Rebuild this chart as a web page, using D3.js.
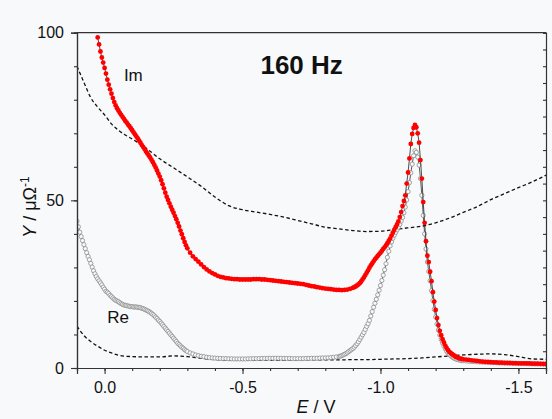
<!DOCTYPE html>
<html>

<head>
    <meta charset="UTF-8">
    <style>
        body { margin: 0; background: #f8f9fa; }
        svg { font-family: "Liberation Sans", Arial, sans-serif; }
    </style>
</head>

<body>
    <script src="https://d3js.org/d3.v7.min.js"></script>
    <div id="chart"></div>
    <script>
        // Im (red filled dots), [E in V, Y in uOhm^-1]
        const imData = [
            [0.025, 98.6], [0.020, 96.5], [0.015, 94.4], [0.010, 92.6], [0.005, 91.1], [0.000, 89.5],
            [-0.005, 87.8], [-0.010, 86.0], [-0.015, 84.5], [-0.020, 83.1], [-0.025, 81.8], [-0.030, 80.5],
            [-0.035, 79.3], [-0.040, 78.3], [-0.045, 77.5], [-0.050, 76.8], [-0.055, 76.1], [-0.060, 75.5],
            [-0.065, 74.9], [-0.070, 74.3], [-0.075, 73.7], [-0.080, 73.2], [-0.085, 72.6], [-0.090, 72.1],
            [-0.095, 71.5], [-0.100, 70.9], [-0.105, 70.3], [-0.110, 69.7], [-0.115, 69.1], [-0.120, 68.5],
            [-0.125, 67.8], [-0.130, 67.2], [-0.135, 66.5], [-0.140, 65.9], [-0.145, 65.3], [-0.150, 64.6],
            [-0.155, 64.0], [-0.160, 63.4], [-0.165, 62.8], [-0.170, 62.1], [-0.175, 61.4], [-0.180, 60.6],
            [-0.185, 59.8], [-0.190, 58.9], [-0.195, 58.0], [-0.200, 57.1], [-0.205, 56.0], [-0.210, 54.8],
            [-0.215, 53.6], [-0.220, 52.3], [-0.225, 51.1], [-0.230, 50.1], [-0.235, 49.1], [-0.240, 48.1],
            [-0.245, 47.2], [-0.250, 46.3], [-0.255, 45.3], [-0.260, 44.4], [-0.265, 43.3], [-0.270, 42.2],
            [-0.275, 41.0], [-0.280, 39.9], [-0.285, 38.7], [-0.290, 37.6], [-0.295, 36.6], [-0.300, 35.7],
            [-0.31, 34.4], [-0.32, 33.3], [-0.33, 32.5], [-0.34, 31.7], [-0.35, 30.9], [-0.36, 30.1],
            [-0.37, 29.4], [-0.38, 28.8], [-0.39, 28.3], [-0.40, 27.9], [-0.41, 27.5], [-0.42, 27.2],
            [-0.43, 27.0], [-0.44, 26.8], [-0.45, 26.7], [-0.46, 26.6], [-0.47, 26.5], [-0.48, 26.5],
            [-0.49, 26.4], [-0.50, 26.4], [-0.51, 26.4], [-0.52, 26.4], [-0.53, 26.4], [-0.54, 26.5],
            [-0.55, 26.5], [-0.56, 26.5], [-0.57, 26.4], [-0.58, 26.4], [-0.59, 26.3], [-0.60, 26.2],
            [-0.61, 26.1], [-0.62, 26.0], [-0.63, 25.9], [-0.64, 25.8], [-0.65, 25.7], [-0.66, 25.6],
            [-0.67, 25.5], [-0.68, 25.4], [-0.69, 25.3], [-0.70, 25.2], [-0.71, 25.1], [-0.72, 25.0],
            [-0.73, 24.8], [-0.74, 24.6], [-0.75, 24.4], [-0.76, 24.3], [-0.77, 24.1], [-0.78, 24.0],
            [-0.79, 23.8], [-0.80, 23.7], [-0.81, 23.6], [-0.82, 23.5], [-0.83, 23.4], [-0.84, 23.3],
            [-0.85, 23.3], [-0.86, 23.2], [-0.87, 23.3], [-0.88, 23.4], [-0.89, 23.6], [-0.900, 23.9],
            [-0.905, 24.1], [-0.910, 24.3], [-0.915, 24.6], [-0.920, 24.9], [-0.925, 25.3], [-0.930, 25.8],
            [-0.935, 26.4], [-0.940, 27.0], [-0.945, 27.7], [-0.950, 28.4], [-0.955, 29.1], [-0.960, 29.9],
            [-0.965, 30.6], [-0.970, 31.2], [-0.975, 31.8], [-0.980, 32.4], [-0.985, 32.9], [-0.990, 33.4],
            [-0.995, 33.9], [-1.000, 34.4], [-1.005, 34.9], [-1.010, 35.5], [-1.015, 36.0], [-1.020, 36.6],
            [-1.025, 37.2], [-1.030, 37.9], [-1.035, 38.6], [-1.040, 39.5], [-1.045, 40.4], [-1.050, 41.2],
            [-1.055, 42.0], [-1.060, 42.8], [-1.065, 43.7], [-1.070, 45.0], [-1.075, 46.5], [-1.080, 48.3],
            [-1.085, 49.8], [-1.090, 51.5], [-1.095, 55.0], [-1.100, 58.3], [-1.105, 62.5], [-1.110, 66.8],
            [-1.115, 69.8], [-1.120, 71.6], [-1.125, 72.5], [-1.130, 71.8], [-1.135, 70.0], [-1.140, 67.2],
            [-1.145, 62.0], [-1.150, 56.5], [-1.155, 49.5], [-1.160, 43.3], [-1.165, 37.8], [-1.170, 33.5],
            [-1.175, 31.6], [-1.180, 28.7], [-1.185, 25.9], [-1.190, 22.6], [-1.195, 19.8], [-1.200, 17.3],
            [-1.205, 14.9], [-1.210, 12.8], [-1.215, 11.1], [-1.220, 9.8], [-1.225, 8.6], [-1.230, 7.6],
            [-1.235, 6.7], [-1.240, 5.9], [-1.245, 5.3], [-1.250, 4.8], [-1.255, 4.4], [-1.260, 4.1],
            [-1.265, 3.8], [-1.270, 3.5], [-1.275, 3.3], [-1.280, 3.1], [-1.285, 2.9], [-1.290, 2.8],
            [-1.295, 2.7], [-1.300, 2.6], [-1.31, 2.5], [-1.32, 2.4], [-1.33, 2.3], [-1.34, 2.2],
            [-1.35, 2.1], [-1.36, 2.0], [-1.37, 1.9], [-1.38, 1.85], [-1.39, 1.8], [-1.40, 1.75],
            [-1.41, 1.7], [-1.42, 1.65], [-1.43, 1.6], [-1.44, 1.6], [-1.45, 1.55], [-1.46, 1.5],
            [-1.47, 1.5], [-1.48, 1.45], [-1.49, 1.45], [-1.50, 1.4], [-1.51, 1.4], [-1.52, 1.4],
            [-1.53, 1.35], [-1.54, 1.35], [-1.55, 1.3], [-1.56, 1.3], [-1.57, 1.3], [-1.58, 1.25],
            [-1.59, 1.25], [-1.60, 1.2]
        ];

        // Re (grey open circles)
        const reData = [
            [0.100, 43.8], [0.095, 42.1], [0.090, 40.5], [0.085, 39.2], [0.080, 38.0], [0.075, 36.8],
            [0.070, 35.6], [0.065, 34.4], [0.060, 33.3], [0.055, 32.3], [0.050, 31.2], [0.045, 30.1],
            [0.040, 29.0], [0.035, 28.1], [0.030, 27.3], [0.025, 26.6], [0.020, 26.0], [0.015, 25.4],
            [0.010, 24.8], [0.005, 24.1], [0.000, 23.5], [-0.005, 22.9], [-0.010, 22.6], [-0.015, 22.2],
            [-0.020, 21.7], [-0.025, 21.3], [-0.030, 20.9], [-0.035, 20.5], [-0.040, 20.2], [-0.045, 20.0],
            [-0.050, 19.8], [-0.055, 19.5], [-0.060, 19.2], [-0.065, 19.0], [-0.070, 18.8], [-0.075, 18.7],
            [-0.080, 18.6], [-0.085, 18.5], [-0.090, 18.4], [-0.095, 18.3], [-0.100, 18.3], [-0.105, 18.2],
            [-0.110, 18.2], [-0.115, 18.2], [-0.120, 18.1], [-0.125, 18.1], [-0.130, 18.0], [-0.135, 17.8],
            [-0.140, 17.7], [-0.145, 17.5], [-0.150, 17.3], [-0.155, 17.1], [-0.160, 16.9], [-0.165, 16.6],
            [-0.170, 16.3], [-0.175, 16.0], [-0.180, 15.6], [-0.185, 15.2], [-0.190, 14.8], [-0.195, 14.3],
            [-0.200, 13.9], [-0.205, 13.4], [-0.210, 12.9], [-0.215, 12.4], [-0.220, 11.9], [-0.225, 11.4],
            [-0.230, 10.9], [-0.235, 10.4], [-0.240, 9.9], [-0.245, 9.4], [-0.250, 8.9], [-0.255, 8.4],
            [-0.260, 7.9], [-0.265, 7.4], [-0.270, 7.0], [-0.275, 6.6], [-0.280, 6.2], [-0.285, 5.9],
            [-0.290, 5.5], [-0.295, 5.2], [-0.300, 4.9], [-0.31, 4.5], [-0.32, 4.2], [-0.33, 3.9],
            [-0.34, 3.7], [-0.35, 3.5], [-0.36, 3.4], [-0.37, 3.2], [-0.38, 3.1], [-0.39, 3.0],
            [-0.40, 2.95], [-0.41, 2.9], [-0.42, 2.85], [-0.43, 2.8], [-0.44, 2.8], [-0.45, 2.75],
            [-0.46, 2.75], [-0.47, 2.7], [-0.48, 2.7], [-0.49, 2.7], [-0.50, 2.7], [-0.51, 2.7],
            [-0.52, 2.75], [-0.53, 2.75], [-0.54, 2.8], [-0.55, 2.8], [-0.56, 2.8], [-0.57, 2.85],
            [-0.58, 2.85], [-0.59, 2.85], [-0.60, 2.9], [-0.61, 2.9], [-0.62, 2.9], [-0.63, 2.9],
            [-0.64, 2.9], [-0.65, 2.85], [-0.66, 2.85], [-0.67, 2.85], [-0.68, 2.8], [-0.69, 2.8],
            [-0.70, 2.8], [-0.71, 2.8], [-0.72, 2.8], [-0.73, 2.85], [-0.74, 2.85], [-0.75, 2.9],
            [-0.76, 2.9], [-0.77, 2.9], [-0.78, 2.95], [-0.79, 3.0], [-0.80, 3.0], [-0.81, 3.05],
            [-0.82, 3.1], [-0.83, 3.2], [-0.84, 3.3], [-0.850, 3.45], [-0.855, 3.55], [-0.860, 3.7],
            [-0.865, 3.9], [-0.870, 4.1], [-0.875, 4.3], [-0.880, 4.6], [-0.885, 4.9], [-0.890, 5.2],
            [-0.895, 5.5], [-0.900, 5.8], [-0.905, 6.2], [-0.910, 6.7], [-0.915, 7.2], [-0.920, 7.8],
            [-0.925, 8.5], [-0.930, 9.2], [-0.935, 9.9], [-0.940, 10.6], [-0.945, 11.5], [-0.950, 12.4],
            [-0.955, 13.2], [-0.960, 14.2], [-0.965, 15.5], [-0.970, 16.8], [-0.975, 18.1], [-0.980, 19.3],
            [-0.985, 20.5], [-0.990, 21.8], [-0.995, 23.2], [-1.000, 24.6], [-1.005, 26.1], [-1.010, 27.7],
            [-1.015, 29.3], [-1.020, 31.1], [-1.025, 33.0], [-1.030, 34.8], [-1.035, 36.4], [-1.040, 37.6],
            [-1.045, 38.7], [-1.050, 39.6], [-1.055, 40.4], [-1.060, 41.2], [-1.065, 42.0], [-1.070, 42.8],
            [-1.075, 43.8], [-1.080, 44.9], [-1.085, 46.3], [-1.090, 48.0], [-1.095, 50.1], [-1.100, 52.6],
            [-1.105, 55.3], [-1.110, 58.2], [-1.115, 60.8], [-1.120, 63.3], [-1.125, 64.8], [-1.130, 64.3],
            [-1.135, 62.9], [-1.140, 60.5], [-1.145, 56.5], [-1.150, 51.5], [-1.155, 45.5], [-1.160, 40.0],
            [-1.165, 35.5], [-1.170, 31.6], [-1.175, 28.8], [-1.180, 26.0], [-1.185, 23.1], [-1.190, 20.1],
            [-1.195, 17.5], [-1.200, 15.2], [-1.205, 13.1], [-1.210, 11.3], [-1.215, 9.8], [-1.220, 8.5],
            [-1.225, 7.4], [-1.230, 6.5], [-1.235, 5.7], [-1.240, 5.0], [-1.245, 4.5], [-1.250, 4.0],
            [-1.255, 3.6], [-1.260, 3.3], [-1.265, 3.0], [-1.270, 2.8], [-1.275, 2.6], [-1.280, 2.5],
            [-1.285, 2.4], [-1.290, 2.3], [-1.295, 2.2], [-1.300, 2.2], [-1.31, 2.1], [-1.32, 2.0],
            [-1.33, 1.95], [-1.34, 1.9], [-1.35, 1.85], [-1.36, 1.8], [-1.37, 1.75], [-1.38, 1.7],
            [-1.39, 1.65], [-1.40, 1.6], [-1.41, 1.6], [-1.42, 1.55], [-1.43, 1.5], [-1.44, 1.5],
            [-1.45, 1.45], [-1.46, 1.45], [-1.47, 1.4], [-1.48, 1.4], [-1.49, 1.35], [-1.50, 1.35],
            [-1.51, 1.3], [-1.52, 1.3], [-1.53, 1.3], [-1.54, 1.25], [-1.55, 1.25], [-1.56, 1.2],
            [-1.57, 1.2], [-1.58, 1.2], [-1.59, 1.15], [-1.60, 1.15]
        ];

        // dashed baselines
        const imBase = [
            [0.10, 90.0], [0.075, 85.2], [0.05, 80.6], [0.025, 77.8], [0.00, 75.5], [-0.025, 72.8],
            [-0.05, 70.9], [-0.075, 69.5], [-0.10, 68.3], [-0.15, 65.6], [-0.20, 62.4], [-0.25, 59.7],
            [-0.30, 57.0], [-0.35, 54.2], [-0.40, 51.0], [-0.45, 48.4], [-0.50, 47.2], [-0.55, 46.5],
            [-0.60, 45.8], [-0.65, 45.0], [-0.70, 44.0], [-0.75, 43.0], [-0.80, 42.0], [-0.85, 41.5],
            [-0.90, 41.0], [-0.95, 40.7], [-1.00, 40.8], [-1.05, 41.3], [-1.10, 41.8], [-1.15, 42.3],
            [-1.20, 43.3], [-1.25, 44.7], [-1.30, 46.4], [-1.35, 48.1], [-1.40, 50.2], [-1.45, 52.0],
            [-1.50, 53.8], [-1.55, 55.5], [-1.60, 57.5]
        ];
        const reBase = [
            [0.10, 12.5], [0.075, 9.7], [0.05, 7.9], [0.025, 6.5], [0.00, 5.3], [-0.025, 4.5],
            [-0.05, 3.8], [-0.075, 3.5], [-0.10, 3.4], [-0.15, 3.3], [-0.20, 3.3], [-0.25, 3.6],
            [-0.30, 3.4], [-0.35, 2.9], [-0.40, 2.5], [-0.45, 2.3], [-0.50, 2.3], [-0.55, 2.3],
            [-0.60, 2.3], [-0.65, 2.3], [-0.70, 2.4], [-0.75, 2.4], [-0.80, 2.4], [-0.85, 2.4],
            [-0.90, 2.5], [-0.95, 2.5], [-1.00, 2.6], [-1.05, 2.7], [-1.10, 2.8], [-1.15, 3.0],
            [-1.20, 3.3], [-1.25, 3.6], [-1.30, 3.9], [-1.35, 4.1], [-1.40, 4.2], [-1.45, 4.0],
            [-1.50, 3.4], [-1.55, 2.7], [-1.60, 2.6]
        ];

        const xTicks = [0, -0.5, -1.0, -1.5];
        const xMinor = [0.1, 0, -0.1, -0.2, -0.3, -0.4, -0.5, -0.6, -0.7, -0.8, -0.9, -1.0, -1.1, -1.2, -1.3, -1.4, -1.5, -1.6];
        const yTicks = [0, 50, 100];
        const yMinor = [0, 10, 20, 30, 40, 50, 60, 70, 80, 90, 100];
        const yRight = [0, 5, 10, 15, 20, 25, 30, 35, 40, 45, 50, 55, 60, 65, 70, 75, 80, 85, 90, 95, 100];

        const W = 552, H = 419;
        const margin = { top: 32.7, right: 6, bottom: 51, left: 77 };
        const width = W - margin.left - margin.right,
            height = H - margin.top - margin.bottom;

        const svg = d3.select("#chart")
            .append("svg")
            .attr("width", W)
            .attr("height", H);

        const g = svg.append("g")
            .attr("transform", `translate(${margin.left},${margin.top})`);

        const x = d3.scaleLinear().domain([0.1, -1.6]).range([0, width]);
        const y = d3.scaleLinear().domain([0, 100]).range([height, 0]);

        g.append("clipPath").attr("id", "clip")
            .append("rect").attr("width", width).attr("height", height);

        const plot = g.append("g").attr("clip-path", "url(#clip)");

        const line = d3.line().x(d => x(d[0])).y(d => y(d[1]));
        const smooth = d3.line().x(d => x(d[0])).y(d => y(d[1])).curve(d3.curveMonotoneX);

        // dashed baselines
        [imBase, reBase].forEach(b => {
            plot.append("path")
                .datum(b)
                .attr("d", smooth)
                .attr("fill", "none")
                .attr("stroke", "#111")
                .attr("stroke-width", 1.3)
                .attr("stroke-dasharray", "3.5,2.5");
        });

        // Re
        plot.append("path")
            .datum(reData)
            .attr("d", line)
            .attr("fill", "none")
            .attr("stroke", "#333")
            .attr("stroke-width", 0.8);
        plot.selectAll(".re")
            .data(reData)
            .enter()
            .append("circle")
            .attr("class", "re")
            .attr("cx", d => x(d[0]))
            .attr("cy", d => y(d[1]))
            .attr("r", 2.1)
            .attr("fill", "#f8f9fa")
            .attr("stroke", "#8c8c8c")
            .attr("stroke-width", 0.8);

        // Im
        plot.append("path")
            .datum(imData)
            .attr("d", line)
            .attr("fill", "none")
            .attr("stroke", "#222")
            .attr("stroke-width", 0.8);
        plot.selectAll(".im")
            .data(imData)
            .enter()
            .append("circle")
            .attr("class", "im")
            .attr("cx", d => x(d[0]))
            .attr("cy", d => y(d[1]))
            .attr("r", 2.4)
            .attr("fill", "#ff0000");

        // axes
        const axisColor = "#333";
        function styleAxis(sel) {
            sel.select(".domain").attr("stroke", axisColor).attr("stroke-width", 1.2);
            sel.selectAll(".tick line").attr("stroke", axisColor).attr("stroke-width", 1.1);
            sel.selectAll("text").attr("fill", "#111").style("font-size", "16px");
        }

        g.append("g")
            .attr("transform", `translate(0,${height})`)
            .call(d3.axisBottom(x).tickValues(xMinor).tickSize(3).tickFormat(""))
            .call(styleAxis);
        g.append("g")
            .attr("transform", `translate(0,${height})`)
            .call(d3.axisBottom(x).tickValues(xTicks).tickSize(6).tickPadding(8)
                .tickFormat(d => d === 0 ? "0.0" : d3.format(".1f")(d).replace("−", "-")))
            .call(styleAxis);

        g.append("g")
            .call(d3.axisLeft(y).tickValues(yMinor).tickSize(3).tickFormat(""))
            .call(styleAxis);
        g.append("g")
            .call(d3.axisLeft(y).tickValues(yTicks).tickSize(6).tickPadding(7))
            .call(styleAxis);

        g.append("g")
            .attr("transform", `translate(${width},0)`)
            .call(d3.axisLeft(y).tickValues(yRight).tickSize(3).tickFormat(""))
            .call(styleAxis);

        g.append("line")
            .attr("x1", 0).attr("x2", width).attr("y1", 0).attr("y2", 0)
            .attr("stroke", axisColor).attr("stroke-width", 1.2);

        // labels
        g.append("text")
            .attr("x", x(-0.07)).attr("y", y(85.5))
            .style("font-size", "17px").attr("fill", "#111")
            .text("Im");
        g.append("text")
            .attr("x", x(-0.01)).attr("y", y(13.4))
            .style("font-size", "17px").attr("fill", "#111")
            .text("Re");
        g.append("text")
            .attr("x", x(-0.565)).attr("y", y(87.6))
            .style("font-size", "26px").style("font-weight", "bold").attr("fill", "#111")
            .text("160 Hz");

        // axis titles
        const xt = svg.append("text")
            .attr("x", 316).attr("y", 413)
            .attr("text-anchor", "middle")
            .style("font-size", "18px").attr("fill", "#111");
        xt.append("tspan").style("font-style", "italic").text("E");
        xt.append("tspan").text(" / V");

        const yt = svg.append("text")
            .attr("transform", "translate(36,207) rotate(-90)")
            .attr("text-anchor", "middle")
            .style("font-size", "18px").attr("fill", "#111");
        yt.append("tspan").style("font-style", "italic").text("Y");
        yt.append("tspan").text(" / μΩ");
        yt.append("tspan").attr("dy", -7).style("font-size", "12px").text("-1");
    </script>
</body>

</html>
